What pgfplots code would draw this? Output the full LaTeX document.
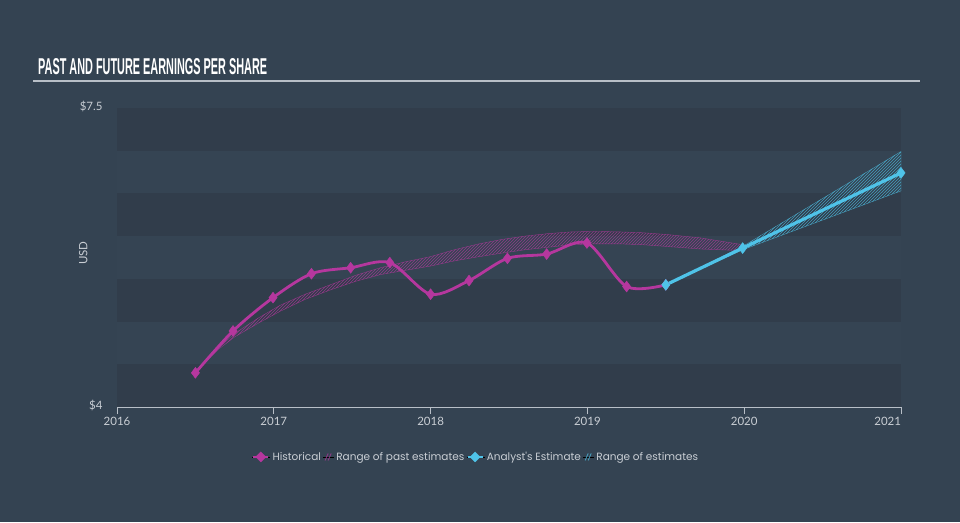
\documentclass[border=0pt]{standalone}
\usepackage{pgfplots}
\pgfplotsset{compat=1.18}
\usetikzlibrary{patterns}
\usepackage{fontspec}
\setmainfont{Lato}
\newfontfamily\titlefont{Liberation Sans}
\newfontfamily\legfont{Poppins}
\definecolor{bg}{HTML}{344352}
\definecolor{bandD}{HTML}{313D4B}
\definecolor{bandL}{HTML}{354453}
\definecolor{mag}{HTML}{B5379E}
\definecolor{cy}{HTML}{4FC3E8}
\definecolor{txt}{HTML}{C9CED4}
\definecolor{axl}{HTML}{B8BFC7}
\pagecolor{bg}

\pgfplotstableread{
x y
2016.50 4.40
2016.74 4.89
2016.995 5.28
2017.24 5.56
2017.49 5.63
2017.74 5.69
2018.00 5.32
2018.245 5.48
2018.49 5.74
2018.74 5.79
2018.997 5.92
2019.25 5.41
2019.50 5.43
}\hist

\pgfplotstableread{
x y
2019.50 5.43
2019.99 5.86
2021.00 6.74
}\est

% range of past estimates: upper edge then lower edge reversed
\pgfplotstableread{
x y
2016.55 4.50
2016.65 4.70
2016.75 4.86
2016.90 5.04
2017.04 5.19
2017.20 5.32
2017.36 5.43
2017.52 5.54
2017.68 5.63
2017.84 5.70
2018.00 5.76
2018.15 5.84
2018.31 5.91
2018.45 5.96
2018.60 6.00
2018.75 6.03
2018.90 6.05
2019.05 6.055
2019.20 6.05
2019.35 6.04
2019.50 6.02
2019.72 5.98
2019.99 5.90
2019.99 5.83
2019.72 5.85
2019.50 5.88
2019.35 5.90
2019.20 5.91
2019.05 5.91
2018.90 5.90
2018.75 5.87
2018.60 5.84
2018.45 5.80
2018.31 5.76
2018.15 5.71
2018.00 5.65
2017.84 5.60
2017.68 5.55
2017.52 5.47
2017.36 5.37
2017.20 5.26
2017.04 5.12
2016.90 4.98
2016.75 4.82
2016.65 4.68
}\pastrange

\pgfplotstableread{
x y
2019.50 5.43
2019.99 5.88
2021.00 6.99
2021.00 6.53
2019.99 5.84
}\futrange

\begin{document}
\begin{tikzpicture}
\path (0pt,0pt) rectangle (960pt,522pt);
\node[anchor=south west, inner sep=0pt, text=white] at (38pt,447pt) {\resizebox{229pt}{16pt}{\titlefont\bfseries PAST AND FUTURE EARNINGS PER SHARE}};
\draw[axl, line width=1.5pt] (33pt,441pt) -- (920pt,441pt);
\begin{axis}[
  at={(117pt,115pt)}, anchor=south west,
  scale only axis, width=784pt, height=299pt,
  xmin=2016, xmax=2021, ymin=4, ymax=7.5,
  clip=false,
  axis line style={draw=none},
  xtick={2016,2017,2018,2019,2020,2021},
  xticklabels={2016,2017,2018,2019,2020,{2021\hphantom{2021}}},
  xtick pos=bottom, ytick pos=left,
  ytick={4,7.5}, yticklabels={\$4,\$7.5},
  tick align=outside, major tick length=7pt,
  xtick style={axl, line width=0.8pt},
  ytick style={draw=none},
  xticklabel style={text=txt, font=\fontsize{11.5}{13}\selectfont},
  yticklabel style={text=txt, font=\fontsize{11.5}{13}\selectfont, xshift=-4pt, yshift=2pt},
  ylabel={USD},
  every axis y label/.style={at={(axis description cs:-0.043,0.515)}, rotate=90, anchor=center, text=txt, font=\fontsize{11.5}{13}\selectfont},
  legend style={at={(0.458,-0.167)}, anchor=center, draw=none, fill=none, text=txt,
    font=\legfont\fontsize{10.5}{13}\selectfont, legend columns=4,
    nodes={inner xsep=2pt}},
]
\fill[bandD] (axis cs:2016,7.0) rectangle (axis cs:2021,7.5);
\fill[bandL] (axis cs:2016,6.5) rectangle (axis cs:2021,7.0);
\fill[bandD] (axis cs:2016,6.0) rectangle (axis cs:2021,6.5);
\fill[bandL] (axis cs:2016,5.5) rectangle (axis cs:2021,6.0);
\fill[bandD] (axis cs:2016,5.0) rectangle (axis cs:2021,5.5);
\fill[bandL] (axis cs:2016,4.5) rectangle (axis cs:2021,5.0);
\fill[bandD] (axis cs:2016,4.0) rectangle (axis cs:2021,4.5);
\draw[axl, line width=1pt] (axis cs:2016,4) -- (axis cs:2021,4);

\addplot[draw=mag, line width=0.4pt, draw opacity=0.7, pattern=north east lines, pattern color=mag, forget plot] table {\pastrange} -- cycle;

\addplot[mag, line width=2.8pt, smooth, tension=0.5, mark=diamond*, mark size=5.5pt, mark options={line width=0.4pt}, forget plot] table {\hist};

\addplot[draw=cy, line width=0.4pt, draw opacity=0.7, pattern=north east lines, pattern color=cy, forget plot] table {\futrange} -- cycle;

\addplot[cy, line width=3.2pt, mark=diamond*, mark size=5.5pt, mark options={line width=0.4pt}, forget plot] table {\est};

\addlegendimage{legend image code/.code={\path (-1pt,0pt) -- (17pt,0pt); \draw[mag, line width=2.5pt] (0pt,0pt) -- (15pt,0pt); \fill[mag] (7.5pt,0pt) +(-5pt,0pt) -- +(0pt,5pt) -- +(5pt,0pt) -- +(0pt,-5pt) -- cycle;}}
\addlegendentry{Historical}
\addlegendimage{legend image code/.code={\path (-2pt,0pt) -- (9pt,0pt); \draw[mag, line width=0.9pt, opacity=0.7] (0pt,-3.5pt) -- (3pt,3.5pt) (3pt,-3.5pt) -- (6pt,3.5pt);}}
\addlegendentry{Range of past estimates\hspace{16pt}}
\addlegendimage{legend image code/.code={\path (-1pt,0pt) -- (17pt,0pt); \draw[cy, line width=2.5pt] (0pt,0pt) -- (15pt,0pt); \fill[cy] (7.5pt,0pt) +(-5pt,0pt) -- +(0pt,5pt) -- +(5pt,0pt) -- +(0pt,-5pt) -- cycle;}}
\addlegendentry{Analyst's Estimate}
\addlegendimage{legend image code/.code={\path (-2pt,0pt) -- (9pt,0pt); \draw[cy, line width=0.9pt, opacity=0.7] (0pt,-3.5pt) -- (3pt,3.5pt) (3pt,-3.5pt) -- (6pt,3.5pt);}}
\addlegendentry{Range of estimates}
\end{axis}
\end{tikzpicture}
\end{document}
